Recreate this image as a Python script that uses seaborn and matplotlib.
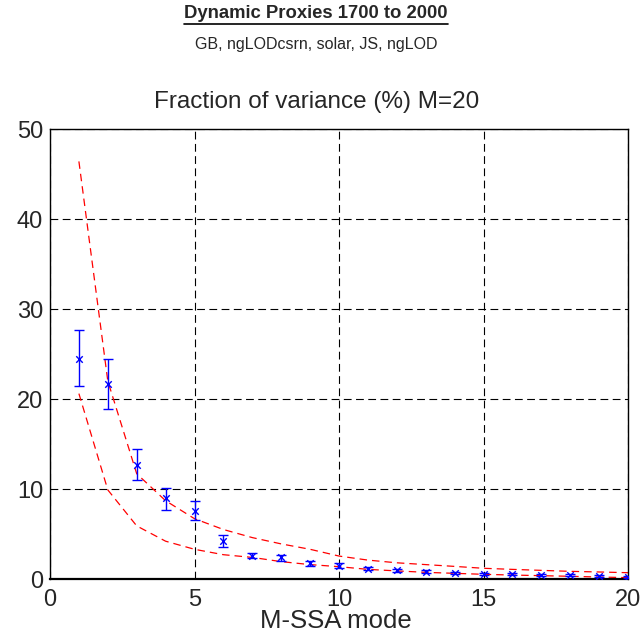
import matplotlib
matplotlib.use("Agg")
import matplotlib.pyplot as plt
import seaborn as sns
import numpy as np
import pandas as pd
from matplotlib.lines import Line2D

modes = list(range(1, 21))
frac = [24.5, 21.7, 12.7, 9.0, 7.6, 4.2, 2.6, 2.4, 1.74, 1.5,
        1.15, 0.96, 0.81, 0.67, 0.59, 0.52, 0.44, 0.41, 0.33, 0.22]
err_hi = [27.7, 24.5, 14.4, 10.1, 8.7, 4.9, 2.9, 2.7, 2.0, 1.8,
          1.3, 1.1, 0.95, 0.8, 0.72, 0.64, 0.55, 0.52, 0.44, 0.32]
err_lo = [21.4, 18.9, 11.0, 7.7, 6.6, 3.6, 2.3, 2.0, 1.4, 1.26,
          1.0, 0.82, 0.68, 0.55, 0.47, 0.40, 0.34, 0.30, 0.23, 0.13]
upper = [46.4, 22.0, 11.7, 8.7, 6.7, 5.5, 4.6, 3.9, 3.3, 2.55,
         2.1, 1.8, 1.6, 1.4, 1.19, 1.07, 0.96, 0.85, 0.78, 0.7]
lower = [20.6, 9.9, 5.9, 4.2, 3.3, 2.7, 2.4, 1.93, 1.6, 1.37,
         1.07, 0.9, 0.74, 0.63, 0.52, 0.44, 0.37, 0.3, 0.22, 0.15]

xticks = [0, 5, 10, 15, 20]
yticks = [0, 10, 20, 30, 40, 50]

sns.set_style("white")
plt.rcParams['font.family'] = ['Liberation Sans', 'DejaVu Sans']

fig = plt.figure(figsize=(6.41, 6.40), dpi=100)
ax = fig.add_axes([50/641, 1 - 579/640, (628 - 50)/641, (579 - 129)/640])

df = pd.DataFrame({"mode": modes, "upper": upper, "lower": lower})
for col in ["upper", "lower"]:
    sns.lineplot(data=df, x="mode", y=col, ax=ax, color="red", lw=0.9,
                 linestyle=(0, (6, 4)))

yerr = [np.array(frac) - np.array(err_lo), np.array(err_hi) - np.array(frac)]
ax.errorbar(modes, frac, yerr=yerr, fmt="none", ecolor="blue", elinewidth=1.0,
            capsize=3.8, capthick=1.0, zorder=3)
sns.scatterplot(x=modes, y=frac, ax=ax, marker="x", color="blue", s=22,
                linewidth=1.0, zorder=4)

ax.set_xlim(0, 20)
ax.set_ylim(0, 50)
ax.set_xticks(xticks)
ax.set_yticks(yticks)
ax.grid(True, color="black", linestyle=(0, (7, 4)), linewidth=0.8)
for s in ax.spines.values():
    s.set_color("black")
    s.set_linewidth(1.0)
    s.set_visible(True)
ax.spines["bottom"].set_linewidth(1.6)
ax.tick_params(axis="x", labelsize=17, length=0, pad=7)
ax.tick_params(axis="y", labelsize=17, length=0, pad=5)
ax.set_xlabel("M-SSA mode", fontsize=18.5)
ax.xaxis.set_label_coords((336 - 50) / 578, -0.066)
ax.xaxis.label.set_va("top")
ax.set_ylabel("")
ax.set_title("Fraction of variance (%) M=20", fontsize=17.5, pad=15,
             x=(317 - 50) / 578)

cx = 316 / 641
t = fig.text(cx, 1 - 14/640, "Dynamic Proxies 1700 to 2000", ha="center", va="center",
             fontsize=13.3, fontweight="bold")
fig.text(cx, 1 - 45/640, "GB, ngLODcsrn, solar, JS, ngLOD", ha="center", va="center",
         fontsize=11.5)
fig.canvas.draw()
bb = t.get_window_extent().transformed(fig.transFigure.inverted())
yline = bb.y0 - 1.0/640
fig.add_artist(Line2D([bb.x0, bb.x1], [yline, yline], transform=fig.transFigure,
                      color="black", lw=1.2))

fig.savefig("out.png", dpi=100)
